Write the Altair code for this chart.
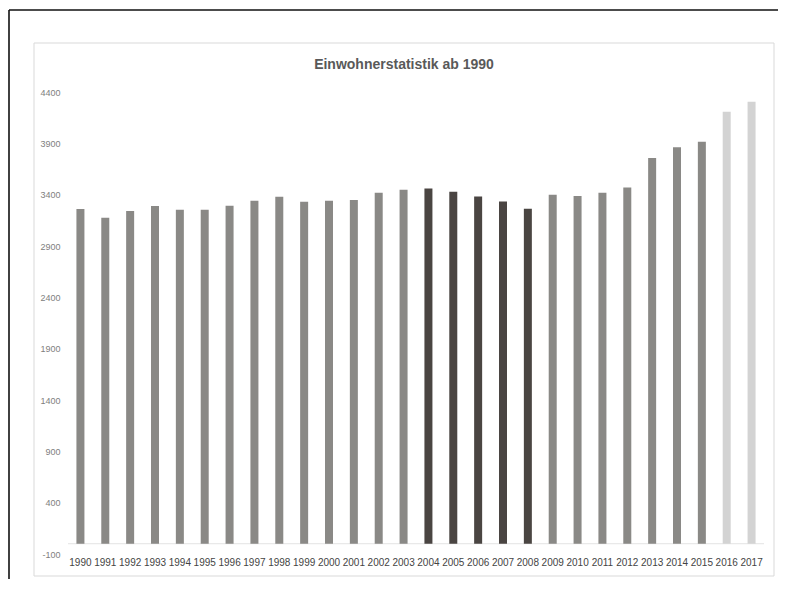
import altair as alt
import pandas as pd

years = [str(y) for y in range(1990, 2018)]
values = [3260, 3175, 3240, 3289, 3253, 3253, 3292, 3340, 3379, 3331,
          3340, 3347, 3418, 3448, 3461, 3428, 3383, 3334, 3262, 3399,
          3386, 3418, 3471, 3757, 3861, 3916, 4208, 4306]
groups = (["a"] * 14) + (["b"] * 5) + (["a"] * 7) + (["c"] * 2)
group_names = ["a", "b", "c"]
group_colors = ["#8a8986", "#4a4542", "#d3d3d3"]
y_ticks = [-100, 400, 900, 1400, 1900, 2400, 2900, 3400, 3900, 4400]
title_text = "Einwohnerstatistik ab 1990"

df = pd.DataFrame({"year": years, "value": values, "group": groups})

FONT = "Liberation Sans"
W, H = 696, 462

one = alt.Data(values=[{"t": title_text}])

outer_top = alt.Chart(one).mark_rule(color="#111111", strokeWidth=1.6).encode(
    x=alt.value(-59), x2=alt.value(720), y=alt.value(-82)
)
outer_left = alt.Chart(one).mark_rule(color="#111111", strokeWidth=1.6).encode(
    x=alt.value(-59), y=alt.value(-82), y2=alt.value(520)
)
panel = alt.Chart(one).mark_rect(fill=None, stroke="#d9d9d9", strokeWidth=1).encode(
    x=alt.value(-34), x2=alt.value(706), y=alt.value(-49), y2=alt.value(484)
)
title = alt.Chart(one).mark_text(
    font=FONT, fontSize=14, fontWeight="bold", color="#595959",
    align="center", baseline="middle"
).encode(x=alt.value(336), y=alt.value(-27), text="t:N")

base = alt.Chart(df)

bars = base.mark_bar(size=8).encode(
    x=alt.X("year:N", sort=years, title=None,
            axis=alt.Axis(labelAngle=0, domain=False, ticks=False, labelPadding=3,
                          labelFontSize=10, labelColor="#444444", labelFont=FONT)),
    y=alt.Y("value:Q", title=None,
            scale=alt.Scale(domain=[-100, 4400], nice=False, zero=False),
            axis=alt.Axis(values=y_ticks, labelExpr="'' + datum.value",
                          domain=False, ticks=False,
                          labelPadding=8, labelFontSize=9, labelColor="#808080",
                          labelFont=FONT, gridColor="#ebebeb")),
    y2=alt.datum(0),
    color=alt.Color("group:N", scale=alt.Scale(domain=group_names, range=group_colors),
                    legend=None),
)

zero_rule = alt.Chart(one).mark_rule(color="#e3e3e3", strokeWidth=1).encode(
    y=alt.datum(0)
)

chart = alt.layer(outer_top, outer_left, panel, title, zero_rule, bars).properties(
    width=W, height=H,
    padding={"left": 60, "top": 84, "right": 14, "bottom": 25},
    autosize=alt.AutoSizeParams(type="none"),
).configure_view(stroke=None)

chart.save("out.html", embed_options={"renderer": "svg", "actions": False})
